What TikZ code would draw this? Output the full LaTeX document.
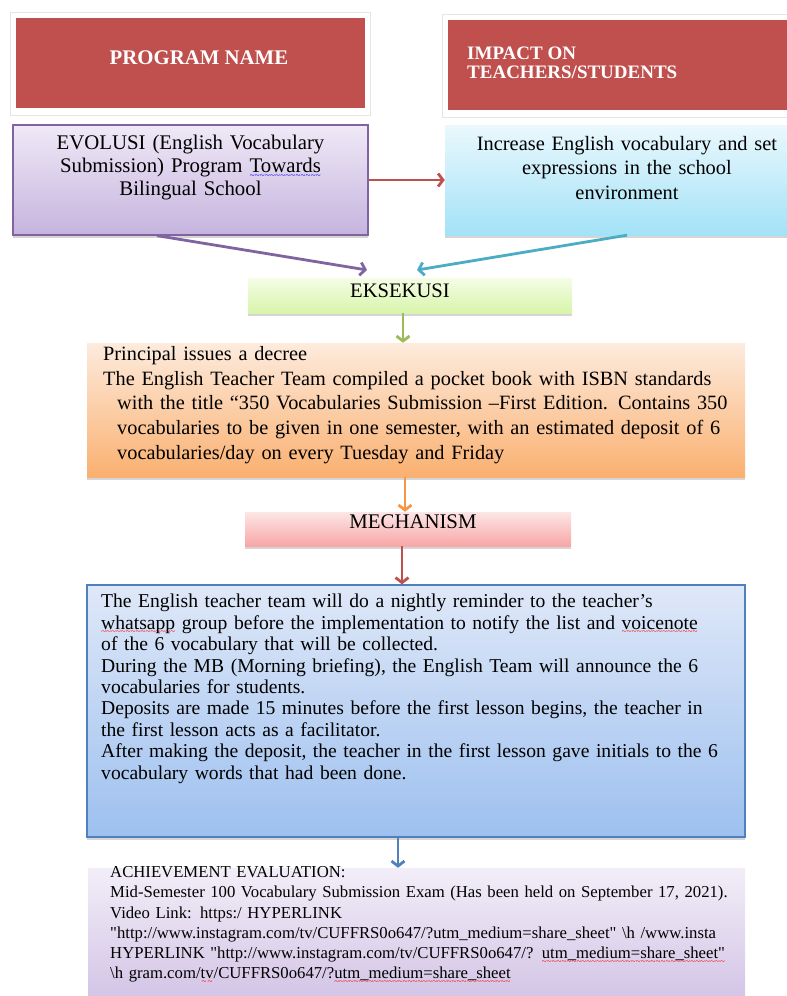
\documentclass[tikz,border=0pt]{standalone}
\usepackage{fontspec}
\setmainfont{Liberation Serif}
\usetikzlibrary{arrows.meta,shadows}

\definecolor{hdred}{HTML}{C0504D}
\definecolor{vioborder}{HTML}{8064A2}
\definecolor{viotop}{HTML}{EFE9F7}
\definecolor{viobot}{HTML}{C6B4DE}
\definecolor{cyantop}{HTML}{EAF8FD}
\definecolor{cyanbot}{HTML}{A3E2F7}
\definecolor{cyanline}{HTML}{4BACC6}
\definecolor{greentop}{HTML}{F5FDE6}
\definecolor{greenbot}{HTML}{D8F4AA}
\definecolor{greenline}{HTML}{9BBB59}
\definecolor{orangetop}{HTML}{FDEBDD}
\definecolor{orangebot}{HTML}{FAB070}
\definecolor{orangeline}{HTML}{F79646}
\definecolor{pinktop}{HTML}{FDE6E6}
\definecolor{pinkbot}{HTML}{F8A6A6}
\definecolor{bluetop}{HTML}{DFE8F8}
\definecolor{bluebot}{HTML}{9DC0EF}
\definecolor{blueline}{HTML}{4F81BD}
\definecolor{lilactop}{HTML}{F2EEF8}
\definecolor{lilacbot}{HTML}{D2C3E5}

% spell check marks
\newsavebox\wavetextbox
\newcommand\markwave[2]{\leavevmode\sbox\wavetextbox{#2}%
  \rlap{\lower5.5pt\hbox to \wd\wavetextbox{\color{#1}\fontsize{9}{9}\selectfont\xleaders\hbox{\char"7E}\hfill}}%
  \usebox\wavetextbox}
\newcommand\redwave[1]{\markwave{red}{#1}}
\newcommand\bluewave[1]{\markwave{blue}{#1}}
\newcommand\qq{\textquotedbl}

\begin{document}
\begin{tikzpicture}[x=1pt,y=-1pt,
    hdframe/.style={draw=black!10, fill=white, line width=0.8pt, inner sep=0pt},
    hdbox/.style={fill=hdred, inner sep=0pt},
    hdtext/.style={text=white, inner sep=0pt},
    boxshadow/.style={drop shadow={shadow xshift=0pt, shadow yshift=-3pt, opacity=0.3, fill=black!55}},
    plainbox/.style={inner sep=0pt, boxshadow},
    boxtext/.style={inner sep=0pt, text=black},
    flow/.style={line width=2.8pt, -{Straight Barb[length=5pt,width=13pt]}}]
  \path[use as bounding box, clip] (0,0) rectangle (787,996);

  % Drawing header PROGRAM NAME
  \node[hdframe, minimum width=360, minimum height=103] (prognameframe) at (190,63.5) {};%
  \node[hdbox, minimum width=349, minimum height=90] (progname) at (190.5,63) {};%
  \node[hdtext, anchor=base, font=\bfseries\fontsize{20.8}{20.8}\selectfont] (prognametext) at (199,64) {PROGRAM NAME};%

  % Drawing header IMPACT
  \node[hdframe, minimum width=368, minimum height=103] (impactframe) at (626,65.5) {};%
  \node[hdbox, minimum width=358, minimum height=90] (impact) at (627,65) {};%
  \node[hdtext, anchor=north west, align=left, font=\bfseries\fontsize{19}{19}\selectfont] (impacttext) at (467,46.5) {IMPACT ON\\TEACHERS/STUDENTS};%

  % Drawing box EVOLUSI
  \node[plainbox, draw=vioborder, line width=1.3pt, top color=viotop, bottom color=viobot, minimum width=355, minimum height=110] (evolusi) at (190.5,180) {};%
  \node[boxtext, anchor=north, text width=340, align=center, font=\fontsize{20.8}{23}\selectfont] (evolusitext) at (190.5,135)
    {EVOLUSI (English Vocabulary\\Submission) Program \bluewave{Towards}\\Bilingual School};%

  % Drawing box vocabulary impact
  \node[plainbox, top color=cyantop, bottom color=cyanbot, minimum width=364, minimum height=110] (increase) at (627,180) {};%
  \node[boxtext, anchor=north, text width=350, align=center, font=\fontsize{20.4}{24.5}\selectfont] (increasetext) at (627,136)
    {Increase English vocabulary and set\\expressions in the school\\environment};%

  % Drawing box EKSEKUSI
  \node[plainbox, top color=greentop, bottom color=greenbot, minimum width=324, minimum height=35] (eksekusi) at (410,295.5) {};%
  \node[boxtext, anchor=base, font=\fontsize{20.6}{24}\selectfont] (eksekusitext) at (400,297) {EKSEKUSI};%

  % Drawing box decree
  \node[plainbox, top color=orangetop, bottom color=orangebot, minimum width=658, minimum height=134] (decree) at (416,410) {};%
  \node[boxtext, anchor=north west, text width=640, align=left, font=\fontsize{20.3}{24.8}\selectfont] (decreetext) at (103,346)
    {Principal issues a decree\\
     The English Teacher Team compiled a pocket book with ISBN standards\\
     \hspace*{14pt}with the title “350 Vocabularies Submission –First Edition. Contains 350\\
     \hspace*{14pt}vocabularies to be given in one semester, with an estimated deposit of 6\\
     \hspace*{14pt}vocabularies/day on every Tuesday and Friday};%

  % Drawing box MECHANISM
  \node[plainbox, top color=pinktop, bottom color=pinkbot, minimum width=326, minimum height=34] (mechanism) at (408,529) {};%
  \node[boxtext, anchor=base, font=\fontsize{20.8}{24}\selectfont] (mechanismtext) at (413,528) {MECHANISM};%

  % Drawing box reminder
  \node[plainbox, draw=blueline, line width=1.3pt, top color=bluetop, bottom color=bluebot, minimum width=658, minimum height=252] (reminder) at (416,711) {};%
  \node[boxtext, anchor=north west, text width=640, align=left, font=\fontsize{19.6}{21.4}\selectfont] (remindertext) at (101,594)
    {The English teacher team will do a nightly reminder to the teacher's\\
     \redwave{whatsapp} group before the implementation to notify the list and \redwave{voicenote}\\
     of the 6 vocabulary that will be collected.\\
     During the MB (Morning briefing), the English Team will announce the 6\\
     vocabularies for students.\\
     Deposits are made 15 minutes before the first lesson begins, the teacher in\\
     the first lesson acts as a facilitator.\\
     After making the deposit, the teacher in the first lesson gave initials to the 6\\
     vocabulary words that had been done.};%

  % Drawing box evaluation
  \node[inner sep=0pt, top color=lilactop, bottom color=lilacbot, minimum width=657, minimum height=134] (evaluation) at (416.5,935) {};%
  \node[boxtext, anchor=north west, text width=650, align=left, font=\fontsize{16.7}{20.2}\selectfont] (evaluationtext) at (110,866.5)
    {ACHIEVEMENT EVALUATION:\\
     Mid-Semester 100 Vocabulary Submission Exam (Has been held on September 17, 2021).\\
     Video Link: https:/ HYPERLINK\\
     \qq http://www.instagram.com/tv/CUFFRS0o647/?utm\_medium=share\_sheet\qq{} \textbackslash h /www.insta\\
     HYPERLINK \qq http://www.instagram.com/tv/CUFFRS0o647/? \redwave{utm\_medium=share\_sheet\qq}\\
     \textbackslash h gram.com/\redwave{tv}/CUFFRS0o647/?\redwave{utm\_medium=share\_sheet}};%

  % Drawing arrows
  \coordinate (purpletip) at (367,270);%
  \coordinate (cyantip) at (417,270);%
  \draw[flow, hdred] (evolusi.east) -- (increase.west);%
  \draw[flow, vioborder] ([xshift=-33.5]evolusi.south) -- (purpletip);%
  \draw[flow, cyanline] (increase.south) -- (cyantip);%
  \draw[flow, greenline] ([xshift=-7]eksekusi.south) -- ([xshift=-7]eksekusi.south |- decree.north);%
  \draw[flow, orangeline] ([xshift=-11]decree.south) -- ([xshift=-11]decree.south |- mechanism.north);%
  \draw[flow, hdred] ([xshift=-6]mechanism.south) -- ([xshift=-6]mechanism.south |- reminder.north);%
  \draw[flow, blueline] ([xshift=-18]reminder.south) -- ([xshift=-18]reminder.south |- evaluation.north);%
\end{tikzpicture}
\end{document}
